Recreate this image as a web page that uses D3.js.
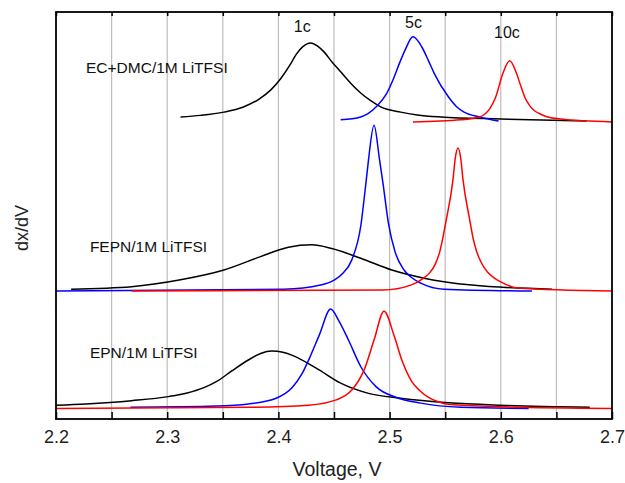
<!DOCTYPE html>
<html>
<head>
<meta charset="utf-8">
<script src="https://cdnjs.cloudflare.com/ajax/libs/d3/7.8.5/d3.min.js"></script>
<style>
  body { margin: 0; background: #fff; }
  text { font-family: "Liberation Sans", Arial, sans-serif; }
</style>
</head>
<body>
<div id="chart"></div>
<script>
var WIDTH = 625;
var HEIGHT = 483;
var margin = { top: 12, right: 13, bottom: 64, left: 56 };

// x ticks (V)
var xTicks = [2.2, 2.25, 2.3, 2.35, 2.4, 2.45, 2.5, 2.55, 2.6, 2.65, 2.7];
var xLabels = ["2.2", "2.3", "2.4", "2.5", "2.6", "2.7"];
var gridLines = [2.25, 2.3, 2.35, 2.4, 2.45, 2.5, 2.55, 2.6, 2.65];

// EC+DMC/1M LiTFSI  [voltage, dx/dV (offset)]
var ecBlack = [[2.312,7.42],[2.33,7.46],[2.351,7.54],[2.368,7.66],[2.382,7.85],[2.393,8.08],[2.402,8.36],[2.410,8.68],
  [2.416,8.96],[2.422,9.15],[2.429,9.24],[2.435,9.17],[2.441,9.02],[2.448,8.78],[2.456,8.53],[2.465,8.25],[2.474,8.01],
  [2.483,7.82],[2.492,7.67],[2.510,7.54],[2.525,7.47],[2.546,7.42],[2.600,7.37],[2.677,7.32]];
var ecBlue = [[2.456,7.35],[2.474,7.42],[2.488,7.67],[2.497,7.98],[2.503,8.33],[2.509,8.75],[2.514,9.07],[2.521,9.39],
  [2.529,9.14],[2.535,8.80],[2.540,8.50],[2.553,7.91],[2.560,7.68],[2.567,7.54],[2.581,7.42],[2.598,7.32]];
var ecRed = [[2.521,7.30],[2.564,7.35],[2.581,7.42],[2.586,7.50],[2.590,7.62],[2.595,7.88],[2.602,8.50],[2.608,8.80],
  [2.614,8.50],[2.618,8.18],[2.622,7.88],[2.626,7.70],[2.630,7.58],[2.635,7.50],[2.640,7.44],[2.654,7.37],[2.700,7.30]];

// FEPN/1M LiTFSI
var fepnBlack = [[2.2136,3.19],[2.268,3.25],[2.312,3.42],[2.351,3.66],[2.384,3.99],[2.409,4.22],[2.430,4.28],[2.448,4.19],
  [2.474,3.95],[2.502,3.66],[2.531,3.46],[2.574,3.29],[2.646,3.19]];
var fepnBlue = [[2.200,3.145],[2.405,3.19],[2.438,3.29],[2.450,3.41],[2.458,3.58],[2.466,3.91],[2.474,4.73],[2.479,5.87],
  [2.481,6.36],[2.486,7.22],[2.491,6.36],[2.494,5.80],[2.499,4.80],[2.505,4.10],[2.513,3.66],[2.520,3.47],[2.528,3.34],
  [2.549,3.19],[2.628,3.145]];
var fepnRed = [[2.268,3.145],[2.494,3.17],[2.519,3.29],[2.530,3.45],[2.536,3.59],[2.541,3.80],[2.545,4.10],[2.551,4.90],
  [2.557,5.88],[2.559,6.40],[2.5615,6.66],[2.564,6.40],[2.566,5.88],[2.572,4.90],[2.575,4.45],[2.578,4.14],[2.5825,3.84],
  [2.588,3.61],[2.594,3.47],[2.600,3.37],[2.615,3.22],[2.700,3.145]];

// EPN/1M LiTFSI
var epnBlack = [[2.200,0.34],[2.227,0.37],[2.268,0.45],[2.301,0.55],[2.318,0.64],[2.333,0.77],[2.345,0.93],[2.358,1.18],
  [2.373,1.45],[2.384,1.61],[2.394,1.67],[2.404,1.64],[2.412,1.57],[2.434,1.25],[2.456,0.88],[2.481,0.63],[2.510,0.51],
  [2.553,0.40],[2.600,0.34],[2.680,0.29]];
var epnBlue = [[2.267,0.29],[2.344,0.32],[2.373,0.37],[2.398,0.51],[2.412,0.76],[2.421,1.10],[2.429,1.56],[2.437,2.08],
  [2.447,2.70],[2.454,2.43],[2.463,1.94],[2.474,1.29],[2.488,0.79],[2.506,0.53],[2.528,0.39],[2.564,0.29],[2.625,0.26]];
var epnRed = [[2.200,0.26],[2.376,0.29],[2.427,0.34],[2.452,0.47],[2.466,0.71],[2.477,1.20],[2.486,1.94],[2.495,2.65],
  [2.504,2.05],[2.511,1.45],[2.520,0.92],[2.527,0.70],[2.535,0.53],[2.543,0.43],[2.553,0.36],[2.600,0.30],[2.700,0.26]];

var series = [
  { data: ecBlack, color: "#000" }, { data: ecBlue, color: "#0000ff" }, { data: ecRed, color: "#ff0000" },
  { data: fepnBlack, color: "#000" }, { data: fepnBlue, color: "#0000ff" }, { data: fepnRed, color: "#ff0000" },
  { data: epnBlack, color: "#000" }, { data: epnBlue, color: "#0000ff" }, { data: epnRed, color: "#ff0000" }
];

var sampleLabels = [
  { text: "EC+DMC/1M LiTFSI", x: 2.227, y: 8.49 },
  { text: "FEPN/1M LiTFSI", x: 2.2305, y: 4.10 },
  { text: "EPN/1M LiTFSI", x: 2.2305, y: 1.50 }
];
var cycleLabels = [
  { text: "1c", x: 2.4215, y: 9.50 },
  { text: "5c", x: 2.5215, y: 9.60 },
  { text: "10c", x: 2.6055, y: 9.36 }
];

var svg = d3.select("#chart").append("svg")
    .attr("width", WIDTH)
    .attr("height", HEIGHT);

var innerW = WIDTH - margin.left - margin.right;
var innerH = HEIGHT - margin.top - margin.bottom;

var x = d3.scaleLinear().domain([2.2, 2.7]).range([margin.left, margin.left + innerW]);
var y = d3.scaleLinear().domain([0, 10]).range([margin.top + innerH, margin.top]);

// grid
svg.append("g")
    .selectAll("line")
    .data(gridLines)
    .enter().append("line")
    .attr("x1", function(d) { return x(d); })
    .attr("x2", function(d) { return x(d); })
    .attr("y1", margin.top)
    .attr("y2", margin.top + innerH)
    .attr("stroke", "#bdbdbd")
    .attr("stroke-width", 1.2);

// curves
var line = d3.line()
    .x(function(d) { return x(d[0]); })
    .y(function(d) { return y(d[1]); })
    .curve(d3.curveMonotoneX);

svg.append("g")
    .selectAll("path")
    .data(series)
    .enter().append("path")
    .attr("d", function(d) { return line(d.data); })
    .attr("fill", "none")
    .attr("stroke", function(d) { return d.color; })
    .attr("stroke-width", 1.5);

// bottom axis
var xAxis = d3.axisBottom(x)
    .tickValues(xTicks)
    .tickSize(-7)
    .tickPadding(11)
    .tickFormat(function(d) {
        var s = d3.format(".1f")(d);
        return xLabels.indexOf(s) >= 0 && Math.abs(d * 10 - Math.round(d * 10)) < 1e-6 ? s : "";
    });

var gx = svg.append("g")
    .attr("transform", "translate(0," + (margin.top + innerH) + ")")
    .call(xAxis);
gx.select(".domain").remove();
gx.selectAll(".tick line").attr("stroke", "#000").attr("stroke-width", 1.5);
gx.selectAll(".tick text")
    .attr("font-size", "18px")
    .attr("fill", "#222")
    .style("font-family", "'Liberation Sans', Arial, sans-serif");

// top ticks
var topAxis = d3.axisTop(x)
    .tickValues(xTicks)
    .tickSize(-4)
    .tickFormat("");
var gt = svg.append("g")
    .attr("transform", "translate(0," + margin.top + ")")
    .call(topAxis);
gt.select(".domain").remove();
gt.selectAll(".tick line").attr("stroke", "#000").attr("stroke-width", 1.5);

// frame
svg.append("rect")
    .attr("x", margin.left)
    .attr("y", margin.top)
    .attr("width", innerW)
    .attr("height", innerH)
    .attr("fill", "none")
    .attr("stroke", "#000")
    .attr("stroke-width", 1.8);

// texts
svg.append("g")
    .selectAll("text")
    .data(sampleLabels)
    .enter().append("text")
    .attr("x", function(d) { return x(d.x); })
    .attr("y", function(d) { return y(d.y); })
    .attr("font-size", "15.5px")
    .attr("fill", "#111")
    .text(function(d) { return d.text; });

svg.append("g")
    .selectAll("text")
    .data(cycleLabels)
    .enter().append("text")
    .attr("x", function(d) { return x(d.x); })
    .attr("y", function(d) { return y(d.y); })
    .attr("text-anchor", "middle")
    .attr("font-size", "16px")
    .attr("fill", "#111")
    .text(function(d) { return d.text; });

svg.append("text")
    .attr("x", 337)
    .attr("y", 476)
    .attr("text-anchor", "middle")
    .attr("font-size", "19.5px")
    .attr("fill", "#222")
    .text("Voltage, V");

svg.append("text")
    .attr("transform", "translate(28,228) rotate(-90)")
    .attr("text-anchor", "middle")
    .attr("font-size", "18px")
    .attr("fill", "#222")
    .text("dx/dV");
</script>
</body>
</html>
